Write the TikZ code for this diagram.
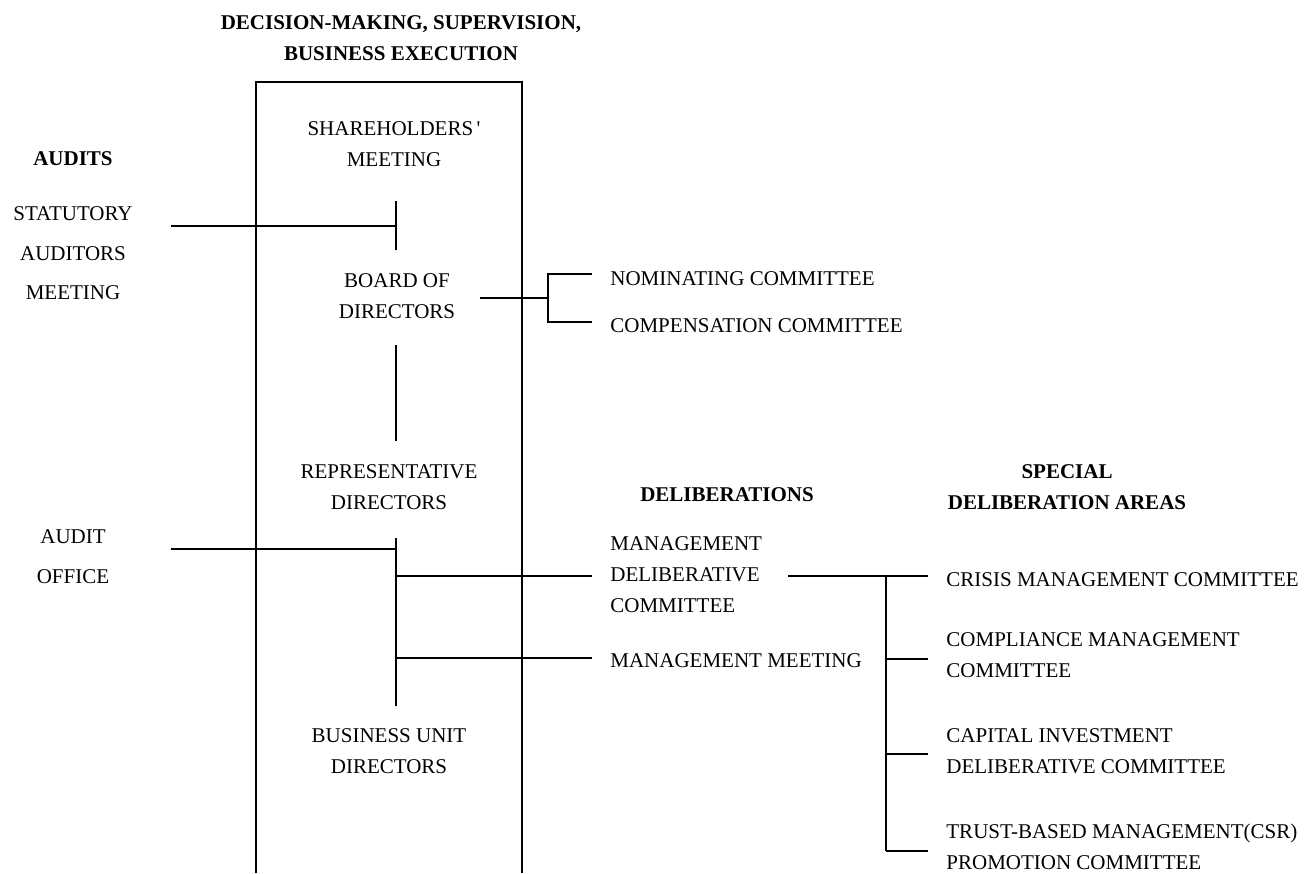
\documentclass[tikz,border=0pt]{standalone}
\usepackage{fontspec}
\setmainfont{Liberation Serif}
\usetikzlibrary{calc,positioning}
\tikzset{
  link/.style    = {line width=1pt},
  lbl/.style     = {font=\fontsize{10.5}{15.5}\selectfont, align=center, inner sep=0},
  lblwide/.style = {font=\fontsize{10.5}{19.75}\selectfont, align=center, inner sep=0},
  hd/.style      = {font=\bfseries\fontsize{10.5}{15.5}\selectfont, align=center, inner sep=0},
  side/.style    = {lbl, align=left, anchor=west},
}

\begin{document}
\begin{tikzpicture}[x=0.5pt, y=-0.5pt]
\useasboundingbox (0,0) rectangle (1306,873);

% --- column heads ---
\node[hd] (hdTop) at (401,38.5) {DECISION-MAKING, SUPERVISION,\\BUSINESS EXECUTION};
\node[hd] (hdAudits) at (73,159) {AUDITS};
\node[hd] (hdDelib) at (727,495) {DELIBERATIONS};
\node[hd] (hdSpecial) at (1067,487) {SPECIAL\\DELIBERATION AREAS};

% --- the open box ---
\draw[link] (256,873) |- (522,82) -- (522,873);

% --- bodies inside the box ---
\node[lbl] (share) at (394,144) {SHAREHOLDERS\,\textquotesingle\\MEETING};
\node[lbl] (board) at (397,296) {BOARD OF\\DIRECTORS};
\node[lbl] (repDir) at (389,487) {REPRESENTATIVE\\DIRECTORS};
\node[lbl] (buDir) at (389,751) {BUSINESS UNIT\\DIRECTORS};

% --- audits ---
\node[lblwide] (statAud) at (73,253.5) {STATUTORY\\AUDITORS\\MEETING};
\node[lblwide] (auditOff) at (73,556.5) {AUDIT\\OFFICE};

% --- committees ---
\node[side] (nomCom) at (610,279) {NOMINATING COMMITTEE};
\node[side] (compCom) at (610,326) {COMPENSATION COMMITTEE};
\node[side] (mgmtDelib) at (610,575) {MANAGEMENT\\DELIBERATIVE\\COMMITTEE};
\node[side] (mgmtMeet) at (610,661) {MANAGEMENT MEETING};

\node[side] (crisis) at (946,580) {CRISIS MANAGEMENT COMMITTEE};
\node[side] (compl) at (946,655) {COMPLIANCE MANAGEMENT\\COMMITTEE};
\node[side] (capInv) at (946,751) {CAPITAL INVESTMENT\\DELIBERATIVE COMMITTEE};
\node[side] (trust) at (946,846.5) {TRUST-BASED MANAGEMENT(CSR)\\PROMOTION COMMITTEE};

% junction points
\coordinate (statEnd) at (171,226);
\coordinate (statJoin) at (396,226);
\coordinate (boardOut) at (480,298);
\coordinate (boardFork) at (548,298);
\coordinate (nomTip) at (592,274);
\coordinate (compTip) at (592,322);
\coordinate (auditEnd) at (171,549);
\coordinate (auditJoin) at (396,549);
\coordinate (spineTop) at (396,538);
\coordinate (spineBot) at (396,706);
\coordinate (delibTip) at (592,576);
\coordinate (meetTip) at (592,658);
\coordinate (delibOut) at (788,576);
\coordinate (specFork) at (886,576);
\coordinate (specBot) at (886,851);

% --- connectors ---
\draw[link] (396,201) -- (396,250);
\draw[link] (statEnd) -- (statJoin);
\draw[link] (boardOut) -- (boardFork);
\draw[link] (nomTip) -| (boardFork) |- (compTip);
\draw[link] (396,345) -- (396,441);
\draw[link] (spineTop) -- (spineBot);
\draw[link] (auditEnd) -- (auditJoin);
\draw[link] (spineTop |- delibTip) -- (delibTip);
\draw[link] (spineTop |- meetTip) -- (meetTip);
\draw[link] (delibOut) -- (specFork) -- (specBot);
\foreach \y in {576,659,754,851}
  \draw[link] (886,\y) -- (928,\y);

\end{tikzpicture}
\end{document}
